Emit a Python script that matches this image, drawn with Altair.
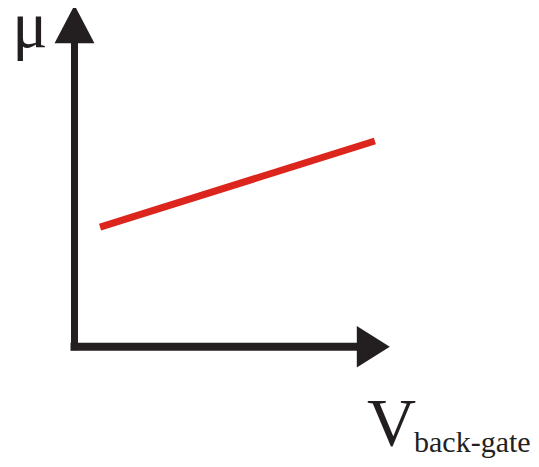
import altair as alt
import pandas as pd

# Schematic in abstract units: axes origin = (0, 0), arrow tips at 1
shaft_x = [0.0, 0.894]        # horizontal axis shaft (start, end)
shaft_y = [0.0, 0.889]        # vertical axis shaft (start, end)
line_x = [0.081, 0.952]       # red trend line
line_y = [0.350, 0.602]
head_up = [0.0, 0.944]        # up arrow head centre (x, y)
head_right = [0.947, 0.0]     # right arrow head centre (x, y)
labels = ["μ", "V", "back-gate"]
label_x = [-0.141, 1.005, 1.0761]
label_y = [0.877, -0.288, -0.3082]

W, H = 523, 451
xs = alt.Scale(domain=[-0.2108, 1.4469], nice=False, zero=False)
ys = alt.Scale(domain=[-0.3287, 0.9912], nice=False, zero=False)
DARK = "#231f20"
RED = "#db251d"


def X(f="x"):
    return alt.X(f"{f}:Q", scale=xs, axis=None)


def Y(f="y"):
    return alt.Y(f"{f}:Q", scale=ys, axis=None)


v_shaft = alt.Chart(pd.DataFrame({"x": [shaft_x[0]], "y": [shaft_y[0]], "y2": [shaft_y[1]]})).mark_rule(
    color=DARK, strokeWidth=7, strokeCap="square"
).encode(x=X(), y=Y(), y2="y2:Q")

h_shaft = alt.Chart(pd.DataFrame({"x": [shaft_x[0]], "x2": [shaft_x[1]], "y": [shaft_y[0]]})).mark_rule(
    color=DARK, strokeWidth=8, strokeCap="square"
).encode(x=X(), x2="x2:Q", y=Y())

up_head = alt.Chart(pd.DataFrame({"x": [head_up[0]], "y": [head_up[1]]})).mark_point(
    shape="M0,-1L1.05,1L-1.05,1Z", size=1444, filled=True, opacity=1, color=DARK, strokeWidth=0
).encode(x=X(), y=Y())

right_head = alt.Chart(pd.DataFrame({"x": [head_right[0]], "y": [head_right[1]]})).mark_point(
    shape="M1,0L-1,-1.26L-1,1.26Z", size=1089, filled=True, opacity=1, color=DARK, strokeWidth=0
).encode(x=X(), y=Y())

red_line = alt.Chart(pd.DataFrame({"x": line_x, "y": line_y})).mark_line(
    color=RED, strokeWidth=7, strokeCap="butt"
).encode(x=X(), y=Y())

lab = pd.DataFrame({"t": labels, "x": label_x, "y": label_y})

mu = alt.Chart(lab.iloc[[0]]).mark_text(
    font="Liberation Serif", fontSize=66, color=DARK, align="center", baseline="alphabetic"
).encode(x=X(), y=Y(), text="t:N")

vee = alt.Chart(lab.iloc[[1]]).mark_text(
    font="Liberation Serif", fontSize=68, color=DARK, align="center", baseline="alphabetic"
).encode(x=X(), y=Y(), text="t:N")

sub = alt.Chart(lab.iloc[[2]]).mark_text(
    font="Liberation Serif", fontSize=30, color=DARK, align="left", baseline="alphabetic"
).encode(x=X(), y=Y(), text="t:N")

chart = alt.layer(v_shaft, h_shaft, up_head, right_head, red_line, mu, vee, sub).properties(
    width=W, height=H, padding=0, autosize=alt.AutoSizeParams(type="none"), background="white"
).configure_view(stroke=None)

chart.save("out.html", embed_options={"renderer": "svg", "actions": False})
